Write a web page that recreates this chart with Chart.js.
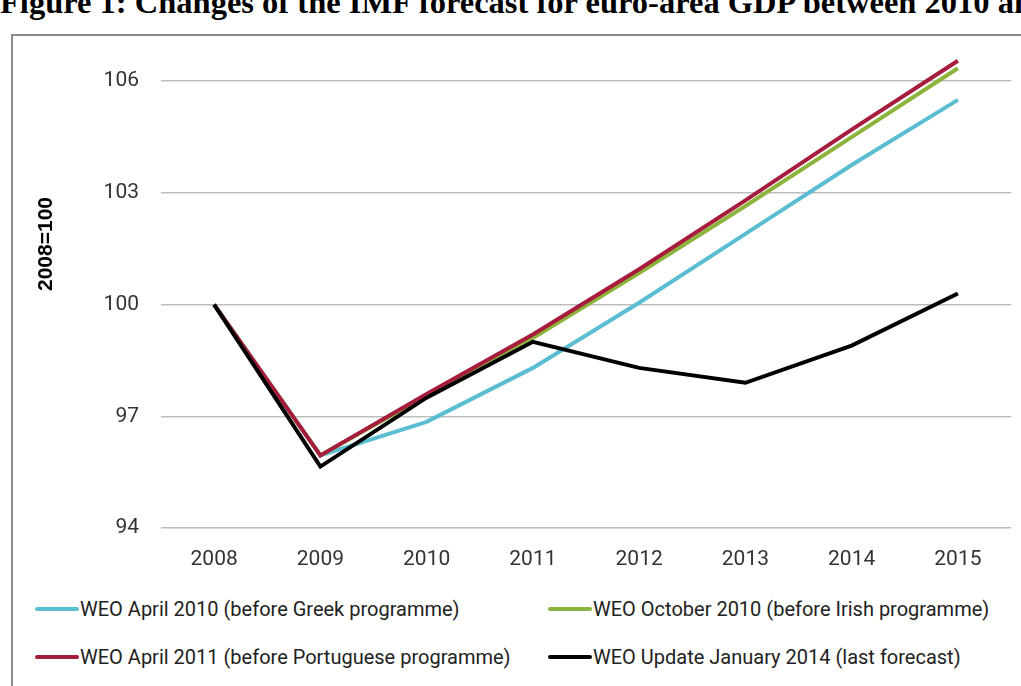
<!DOCTYPE html>
<html>
<head>
<meta charset="utf-8">
<script src="https://cdn.jsdelivr.net/npm/chart.js@4"></script>
<style>
  body { margin: 0; width: 1021px; height: 686px; overflow: hidden; background: #fff; position: relative; }
  #title { position: absolute; left: 0; top: -16px; white-space: nowrap; font: bold 32.5px "Liberation Serif", serif; color: #000; }
  #frame { position: absolute; left: 11px; top: 34px; width: 1100px; height: 700px; border: 2px solid #8a8a8a; box-sizing: border-box; }
  #wrap { position: absolute; left: 0; top: 0; width: 1021px; height: 590px; }
  #ytitle { position: absolute; left: 45px; top: 244px; transform: translate(-50%, -50%) rotate(-90deg); font: bold 21px "Liberation Sans", Arial, sans-serif; color: #000; white-space: nowrap; }
  .leg { position: absolute; display: flex; align-items: center; font: 20px Roboto, sans-serif; color: #222; white-space: nowrap; }
  .leg span.ln { display: inline-block; width: 44px; height: 4px; border-radius: 2px; margin-right: 1px; }
</style>
</head>
<body>
<div id="title">Figure 1: Changes of the IMF forecast for euro-area GDP between 2010 and 2014</div>
<div id="frame"></div>
<div id="wrap"><canvas id="myChart" width="1021" height="590"></canvas></div>
<div id="ytitle">2008=100</div>
<div id="legend"></div>
<script>
// jahre
const years = ['2008', '2009', '2010', '2011', '2012', '2013', '2014', '2015']
const yTicks = [94, 97, 100, 103, 106]

const seriesNames = [
  'WEO April 2010 (before Greek programme)',
  'WEO October 2010 (before Irish programme)',
  'WEO April 2011 (before Portuguese programme)',
  'WEO Update January 2014 (last forecast)'
]
const weoApr2010 = [100, 95.95, 96.85, 98.3, 100.05, 101.9, 103.75, 105.5]
const weoOct2010 = [100, 95.95, 97.55, 99.1, 100.85, 102.65, 104.5, 106.35]
const weoApr2011 = [100, 95.95, 97.6, 99.2, 100.95, 102.8, 104.7, 106.55]
const weoJan2014 = [100, 95.65, 97.5, 99.0, 98.3, 97.9, 98.9, 100.3]
const colors = ['#5bbdd2', '#8cb43c', '#a61c3c', '#000000']

const allSeries = [weoApr2010, weoOct2010, weoApr2011, weoJan2014]

const ctx = document.getElementById('myChart').getContext('2d')

const datasets = allSeries.map((s, i) => ({
  label: seriesNames[i],
  data: s,
  borderColor: colors[i],
  backgroundColor: colors[i],
  borderWidth: 4,
  pointRadius: 0,
  tension: 0,
  order: 3 - i
}))

const myChart = new Chart(ctx, {
  type: 'line',
  data: { labels: years, datasets: datasets },
  options: {
    responsive: false,
    animation: false,
    layout: { padding: { top: 44, right: 10, left: 0, bottom: 0 } },
    plugins: { legend: { display: false }, tooltip: { enabled: false } },
    scales: {
      x: {
        offset: true,
        grid: { display: false, drawTicks: false },
        border: { display: false },
        ticks: { padding: 19, color: '#333', font: { family: 'Roboto', size: 21 } },
        afterFit: s => { s.height = 62 }
      },
      y: {
        min: 94,
        max: 107,
        grid: { color: '#bdbdbd', lineWidth: 1.5, drawTicks: false },
        border: { display: false },
        ticks: { padding: 22, color: '#333', font: { family: 'Roboto', size: 21 } },
        afterBuildTicks: s => { s.ticks = yTicks.map(v => ({ value: v })) },
        afterFit: s => { s.width = 161 }
      }
    }
  }
})

// legende selbst bauen (2 spalten)
const legPos = [[35, 610], [548, 610], [35, 658], [548, 658]]
const legend = document.getElementById('legend')
seriesNames.forEach((name, i) => {
  const d = document.createElement('div')
  d.className = 'leg'
  d.style.left = legPos[i][0] + 'px'
  d.style.top = (legPos[i][1] - 13) + 'px'
  d.innerHTML = '<span class="ln" style="background:' + colors[i] + '"></span>' + name
  legend.appendChild(d)
})
</script>
</body>
</html>
